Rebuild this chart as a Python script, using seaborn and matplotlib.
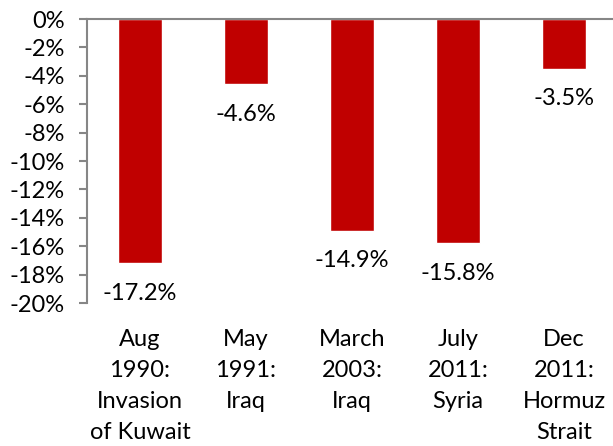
import matplotlib
matplotlib.use("Agg")
import matplotlib.pyplot as plt
import seaborn as sns
import pandas as pd
from matplotlib.ticker import FuncFormatter

# Oil-price moves after geopolitical events
events = ["Aug\n1990:\nInvasion\nof Kuwait", "May\n1991:\nIraq", "March\n2003:\nIraq",
          "July\n2011:\nSyria", "Dec\n2011:\nHormuz\nStrait"]
changes = [-17.2, -4.6, -14.9, -15.8, -3.5]
y_ticks = list(range(0, -21, -2))

sns.set_theme(style="white")
plt.rcParams["font.family"] = ["Lato", "DejaVu Sans"]

df = pd.DataFrame({"event": events, "change": changes})

fig = plt.figure(figsize=(6.13, 4.46), dpi=100)
ax = fig.add_axes([87 / 613, 143 / 446, 530 / 613, 284 / 446])

sns.barplot(data=df, x="event", y="change", color="#C00000", saturation=1,
            width=0.41, ax=ax)

ax.set_ylim(-20, 0)
ax.set_xlim(-0.5, 4.5)
ax.set_yticks(y_ticks)
ax.yaxis.set_major_formatter(FuncFormatter(lambda v, _: f"{v:.0f}%"))
ax.set_xlabel("")
ax.set_ylabel("")

axis_grey = "#868686"
for side in ["right", "bottom"]:
    ax.spines[side].set_visible(False)
ax.spines["left"].set_color(axis_grey)
ax.spines["left"].set_linewidth(1.5)
ax.spines["top"].set_color(axis_grey)
ax.spines["top"].set_linewidth(1.5)

ax.tick_params(axis="y", direction="out", length=6, width=1.5, color=axis_grey,
               labelsize=17, labelcolor="black", pad=10, left=True)
ax.tick_params(axis="x", length=0, labelsize=17, labelcolor="black", pad=18.5)
for lbl in ax.get_xticklabels():
    lbl.set_linespacing(1.6)

for i, v in enumerate(changes):
    ax.annotate(f"{v:.1f}%", xy=(i, v), xytext=(0, -21.5), textcoords="offset points",
                ha="center", va="center", fontsize=17, color="black")

fig.savefig("out.png", dpi=100)
